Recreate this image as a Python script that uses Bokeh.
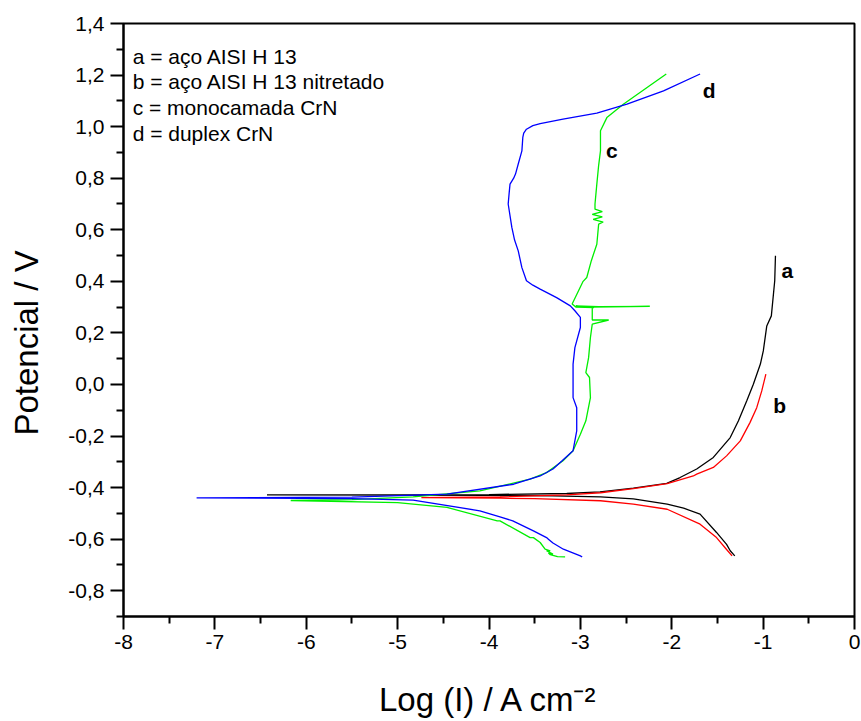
from bokeh.plotting import figure
from bokeh.models import Range1d, FixedTicker, CustomJSTickFormatter, Label
from bokeh.embed import file_html
from bokeh.resources import INLINE

# ---------------- data ----------------
# a = aço AISI H 13 (black)
a_x = [-1.31, -1.36, -1.40, -1.51, -1.69, -1.87, -2.05, -2.42, -2.78, -3.30, -4.00, -5.00, -6.43,
       -5.00, -4.00, -3.149, -2.785, -2.42, -2.055, -1.909, -1.727, -1.545, -1.36, -1.27, -1.18,
       -1.107, -1.03, -0.998, -0.96, -0.91, -0.873, -0.865]
a_y = [-0.665, -0.645, -0.620, -0.574, -0.503, -0.480, -0.464, -0.444, -0.436, -0.432, -0.430, -0.429, -0.428,
       -0.428, -0.427, -0.423, -0.417, -0.402, -0.384, -0.361, -0.328, -0.283, -0.206, -0.141, -0.064,
       0.001, 0.079, 0.130, 0.227, 0.266, 0.402, 0.499]

# b = aço AISI H 13 nitretado (red)
b_x = [-1.34, -1.40, -1.51, -1.69, -2.05, -2.42, -2.78, -3.50, -3.88, -4.74,
       -3.88, -3.15, -2.78, -2.42, -2.05, -1.764, -1.727, -1.545, -1.40, -1.25, -1.144, -1.07, -1.015, -0.97]
b_y = [-0.665, -0.640, -0.594, -0.542, -0.484, -0.464, -0.451, -0.443, -0.441, -0.439,
       -0.436, -0.428, -0.420, -0.404, -0.385, -0.355, -0.348, -0.322, -0.277, -0.219, -0.148, -0.090, -0.025, 0.040]

# c = monocamada CrN (green)
c_x = [-3.167, -3.25, -3.33, -3.35, -3.30, -3.37, -3.33, -3.386, -3.44, -3.514, -3.55, -3.88, -3.91, -4.46, -5.00, -6.17,
       -5.50, -4.83, -4.10, -3.55, -3.37, -3.19, -3.08, -3.00, -2.94, -2.89, -2.90, -2.94, -2.91, -2.89, -2.87,
       -2.69, -2.87, -2.87, -2.87, -2.24, -2.80, -3.05, -2.85, -3.05, -3.09,
       -2.97, -2.93, -2.88, -2.82, -2.80, -2.75, -2.86, -2.76, -2.87, -2.76, -2.84, -2.84,
       -2.82, -2.80, -2.78, -2.78, -2.71, -2.53, -2.27, -2.06]
c_y = [-0.669, -0.668, -0.660, -0.655, -0.658, -0.645, -0.645, -0.639, -0.613, -0.594, -0.594, -0.529, -0.529, -0.477, -0.458, -0.450,
       -0.447, -0.436, -0.413, -0.367, -0.342, -0.296, -0.257, -0.193, -0.141, -0.051, 0.027, 0.046, 0.104, 0.182, 0.234,
       0.250, 0.250, 0.292, 0.300, 0.303, 0.302, 0.305, 0.298, 0.300, 0.312,
       0.400, 0.415, 0.480, 0.544, 0.622, 0.630, 0.640, 0.650, 0.660, 0.670, 0.680, 0.700,
       0.777, 0.850, 0.906, 0.984, 1.035, 1.087, 1.152, 1.204]

# d = duplex CrN (blue)
d_x = [-2.98, -3.00, -3.186, -3.30, -3.35, -3.37, -3.514, -3.74, -3.88, -4.10, -4.83, -5.50, -7.20,
       -5.50, -4.46, -3.73, -3.44, -3.30, -3.20, -3.08, -3.04, -3.04, -3.08, -3.08, -3.08, -3.06, -3.00, -3.00,
       -3.06, -3.11, -3.26, -3.44, -3.52, -3.59, -3.64, -3.68, -3.72, -3.75, -3.79, -3.78, -3.77, -3.73, -3.71, -3.68,
       -3.64, -3.63, -3.62, -3.59, -3.52, -3.44, -3.19, -2.82, -2.49, -2.09, -1.69]
d_y = [-0.669, -0.665, -0.639, -0.615, -0.600, -0.594, -0.568, -0.529, -0.514, -0.490, -0.449, -0.443, -0.440,
       -0.437, -0.425, -0.387, -0.355, -0.328, -0.296, -0.257, -0.180, -0.090, -0.051, 0.014, 0.079, 0.143, 0.221, 0.260,
       0.286, 0.305, 0.337, 0.370, 0.385, 0.402, 0.453, 0.518, 0.560, 0.609, 0.700, 0.740, 0.777, 0.800, 0.816, 0.855,
       0.906, 0.958, 0.975, 0.990, 1.004, 1.012, 1.029, 1.052, 1.087, 1.139, 1.204]

curve_names = ["a", "b", "c", "d"]
curve_colors = ["#000000", "#ff0000", "#00ee00", "#0000ff"]
legend_lines = ["a = aço AISI H 13", "b = aço AISI H 13 nitretado",
                "c = monocamada CrN", "d = duplex CrN"]

x_ticks = [-8, -7, -6, -5, -4, -3, -2, -1, 0]
x_minor = [-7.5, -6.5, -5.5, -4.5, -3.5, -2.5, -1.5, -0.5]
y_ticks = [-0.8, -0.6, -0.4, -0.2, 0.0, 0.2, 0.4, 0.6, 0.8, 1.0, 1.2, 1.4]
y_minor = [-0.9, -0.7, -0.5, -0.3, -0.1, 0.1, 0.3, 0.5, 0.7, 0.9, 1.1, 1.3]

x_label = "Log (I) / A cm\u207b\u00b2"
y_label = "Potencial / V"

# ---------------- figure ----------------
FONT = "Liberation Sans"
p = figure(width=861, height=721, output_backend="svg", toolbar_location=None,
           x_range=Range1d(-8, 0), y_range=Range1d(-0.9, 1.4),
           min_border_left=123, min_border_right=7, min_border_top=23, min_border_bottom=105,
           background_fill_color="white", border_fill_color="white")
p.xgrid.visible = False
p.ygrid.visible = False
p.outline_line_color = "black"
p.outline_line_width = 2

p.xaxis.ticker = FixedTicker(ticks=x_ticks, minor_ticks=x_minor)
p.yaxis.ticker = FixedTicker(ticks=y_ticks, minor_ticks=y_minor)
p.xaxis.formatter = CustomJSTickFormatter(code="return tick.toFixed(0).replace('-0','0').replace(/^0(\\d)/,'$1');")
p.yaxis.formatter = CustomJSTickFormatter(code="return tick.toFixed(1).replace('.', ',').replace('-0,0','0,0');")
for ax in (p.xaxis[0], p.yaxis[0]):
    ax.axis_line_width = 2
    ax.major_tick_line_width = 2
    ax.minor_tick_line_width = 2
    ax.major_tick_in = 0
    ax.major_tick_out = 13
    ax.minor_tick_in = 0
    ax.minor_tick_out = 7
    ax.major_label_text_font = FONT
    ax.major_label_text_font_size = "21px"
    ax.major_label_text_color = "black"
    ax.axis_label_text_font = FONT
    ax.axis_label_text_font_size = "33px"
    ax.axis_label_text_font_style = "normal"
    ax.axis_label_text_color = "black"
p.xaxis.major_label_standoff = 5
p.yaxis.major_label_standoff = 6
p.xaxis.axis_label = x_label
# trailing no-break spaces shift the centred vertical title downwards, as in the original
p.yaxis.axis_label = y_label + "\u00a0" * 5
p.xaxis.axis_label_standoff = 29
p.yaxis.axis_label_standoff = 20

xs = [a_x, b_x, c_x, d_x]
ys = [a_y, b_y, c_y, d_y]
for cx, cy, col in zip(xs, ys, curve_colors):
    p.line(cx, cy, line_color=col, line_width=1.3)

# curve letters next to the curve ends
letter_pos = [(-0.80, 0.443), (-0.89, -0.083), (-2.72, 0.906), (-1.66, 1.142)]
for name, (lx, ly) in zip(curve_names, letter_pos):
    p.add_layout(Label(x=lx, y=ly, text=name, text_font=FONT, text_font_size="21px",
                       text_font_style="bold", text_color="black",
                       text_baseline="alphabetic", text_align="left"))

# legend text block
for i, line in enumerate(legend_lines):
    p.add_layout(Label(x=-7.90, y=1.2728 - i * 0.0992, text=line, text_font=FONT,
                       text_font_size="21px", text_color="black",
                       text_baseline="alphabetic", text_align="left"))

open("out.html", "w").write(file_html(p, INLINE))
